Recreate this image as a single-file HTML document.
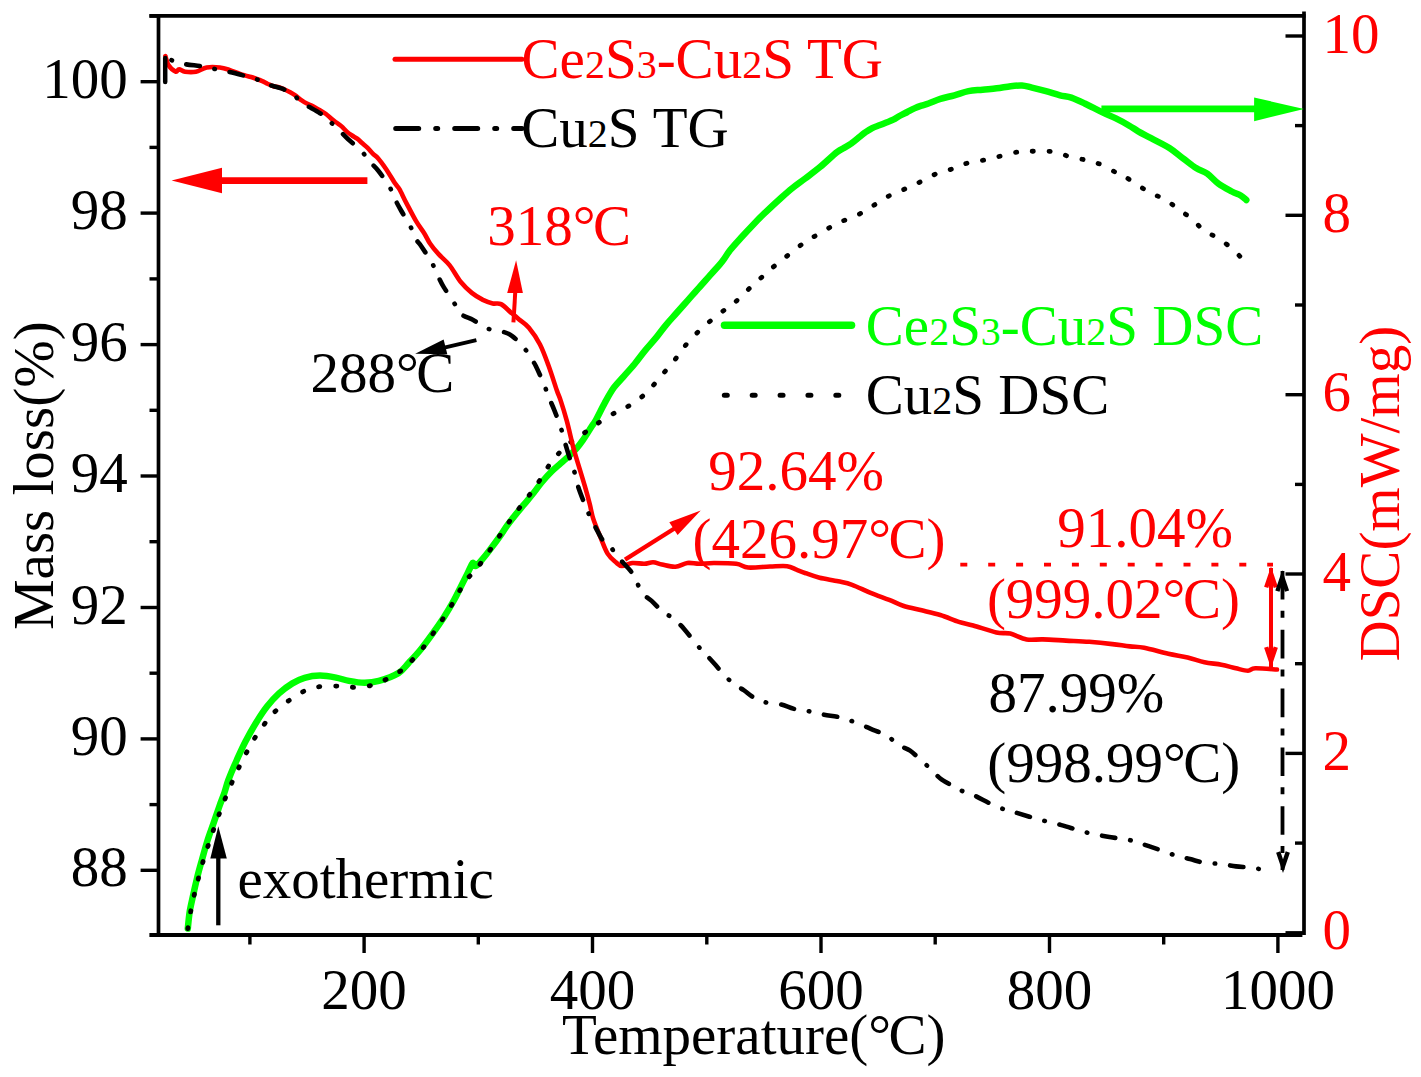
<!DOCTYPE html><html><head><meta charset="utf-8"><style>html,body{margin:0;padding:0;background:#fff;width:1421px;height:1077px;overflow:hidden}</style></head><body><svg width="1421" height="1077" viewBox="0 0 1421 1077" style="position:absolute;left:0;top:0">
<rect width="1421" height="1077" fill="#fff"/>
<path d="M187.8,928.6 C188.1,925.7 188.9,916.7 189.8,911.1 C190.7,905.5 192.0,900.6 193.2,895.0 C194.4,889.4 195.8,883.3 197.2,877.5 C198.6,871.7 200.2,866.1 201.9,860.0 C203.6,853.9 205.4,847.2 207.3,841.1 C209.2,835.0 211.4,829.4 213.4,823.6 C215.4,817.8 217.6,811.4 219.4,806.2 C221.2,801.0 223.0,796.9 224.5,792.5 C226.0,788.1 226.4,785.4 228.4,780.0 C230.4,774.6 233.8,766.7 236.7,760.2 C239.6,753.8 242.4,747.4 245.6,741.3 C248.8,735.2 252.1,729.2 255.6,723.5 C259.1,717.8 262.9,711.8 266.8,706.8 C270.7,701.8 274.7,697.3 279.0,693.4 C283.3,689.5 288.1,686.0 292.4,683.4 C296.7,680.8 300.0,679.1 304.6,677.8 C309.2,676.5 314.8,675.6 320.0,675.6 C325.2,675.6 331.2,676.7 336.0,677.6 C340.8,678.5 344.2,680.0 349.0,680.9 C353.8,681.8 359.6,682.8 364.6,682.8 C369.6,682.8 373.3,682.5 378.9,680.9 C384.5,679.3 393.4,676.1 398.4,673.1 C403.4,670.1 405.1,666.6 408.8,662.7 C412.5,658.8 416.6,654.5 420.5,649.7 C424.4,644.9 428.3,639.5 432.2,634.1 C436.1,628.7 440.2,622.9 443.9,617.2 C447.5,611.5 451.2,605.3 454.1,600.0 C457.0,594.7 459.3,589.8 461.5,585.4 C463.7,581.0 465.8,576.9 467.5,573.5 C469.2,570.1 470.6,566.8 471.5,565.0 C472.4,563.2 472.5,562.6 473.2,562.8 C473.9,563.0 474.3,566.5 475.7,566.0 C477.1,565.5 479.5,562.5 481.6,560.1 C483.7,557.8 486.1,554.8 488.3,551.9 C490.5,549.0 492.9,545.8 495.0,543.0 C497.1,540.2 498.9,537.8 500.9,534.9 C502.9,532.0 504.7,529.0 506.9,525.9 C509.1,522.8 511.4,519.9 514.1,516.4 C516.9,512.9 520.3,508.9 523.4,505.2 C526.5,501.5 529.6,498.0 532.7,494.1 C535.8,490.2 538.9,485.7 542.0,482.0 C545.1,478.3 548.2,474.9 551.3,471.8 C554.4,468.7 557.5,466.2 560.6,463.4 C563.7,460.6 567.3,457.6 569.9,455.1 C572.5,452.6 574.2,451.1 576.4,448.6 C578.6,446.1 580.4,443.8 582.9,440.2 C585.4,436.6 589.1,430.4 591.3,427.0 C593.5,423.6 593.6,424.1 595.9,420.0 C598.2,415.9 601.9,408.0 604.9,402.6 C607.9,397.2 610.6,392.2 613.8,387.7 C617.0,383.2 620.7,379.8 624.2,375.8 C627.7,371.9 631.1,368.2 634.6,364.0 C638.1,359.8 641.5,354.8 645.0,350.6 C648.5,346.4 651.8,342.9 655.3,338.7 C658.8,334.5 662.2,329.5 665.7,325.3 C669.2,321.1 672.4,317.7 676.1,313.5 C679.8,309.3 684.0,304.6 688.0,300.1 C692.0,295.6 695.9,291.1 699.9,286.7 C703.9,282.2 708.1,277.6 711.8,273.4 C715.5,269.2 719.2,265.4 722.2,261.5 C725.2,257.6 726.8,254.4 730.0,250.3 C733.2,246.2 737.8,241.3 741.7,237.0 C745.6,232.7 749.5,228.5 753.4,224.4 C757.3,220.3 760.9,216.7 765.1,212.7 C769.3,208.7 774.0,204.2 778.5,200.2 C783.0,196.2 787.4,192.1 791.9,188.5 C796.4,184.9 800.5,182.1 805.2,178.5 C809.9,174.9 815.0,171.2 820.3,166.8 C825.6,162.4 833.0,155.2 837.0,152.1 C841.0,148.9 841.8,149.3 844.1,147.9 C846.5,146.5 848.8,145.2 851.1,143.6 C853.4,141.9 855.8,139.9 858.1,138.0 C860.5,136.1 862.9,134.1 865.2,132.4 C867.6,130.8 869.9,129.3 872.2,128.1 C874.6,126.9 876.9,126.2 879.3,125.3 C881.6,124.4 884.0,123.4 886.3,122.5 C888.6,121.6 890.9,120.9 893.3,119.7 C895.6,118.5 898.0,116.8 900.4,115.5 C902.8,114.2 905.1,113.2 907.4,112.0 C909.7,110.8 912.0,109.5 914.4,108.4 C916.8,107.3 919.1,106.4 921.5,105.6 C923.9,104.8 925.4,104.6 928.5,103.5 C931.6,102.4 936.1,100.3 940.4,98.9 C944.7,97.5 949.7,96.6 954.4,95.3 C959.1,94.0 963.8,92.0 968.5,91.1 C973.2,90.2 977.9,90.2 982.6,89.7 C987.3,89.2 992.0,88.9 996.7,88.3 C1001.4,87.7 1006.5,86.7 1010.7,86.2 C1014.9,85.7 1018.5,85.3 1022.0,85.5 C1025.5,85.7 1027.9,86.7 1031.9,87.6 C1035.9,88.5 1041.2,89.8 1045.9,91.1 C1050.6,92.4 1055.8,94.2 1060.0,95.3 C1064.2,96.4 1067.2,96.2 1071.3,97.6 C1075.4,99.0 1079.5,101.0 1084.7,103.5 C1089.9,106.0 1097.3,109.9 1102.5,112.4 C1107.7,114.9 1111.4,116.2 1115.9,118.4 C1120.4,120.6 1125.6,123.5 1129.3,125.7 C1133.0,127.9 1134.5,129.2 1138.2,131.3 C1141.9,133.4 1146.3,135.6 1151.5,138.4 C1156.7,141.2 1164.2,144.7 1169.4,148.0 C1174.6,151.3 1178.2,154.8 1182.7,158.1 C1187.2,161.4 1192.0,165.5 1196.1,168.1 C1200.2,170.7 1203.6,171.1 1207.3,173.7 C1211.0,176.3 1214.3,180.7 1218.4,183.7 C1222.5,186.7 1228.1,189.5 1231.8,191.5 C1235.5,193.5 1238.3,194.1 1240.7,195.5 C1243.1,196.9 1245.4,199.2 1246.3,200.0" fill="none" stroke="#00ff00" stroke-width="6.5" stroke-linejoin="round" stroke-linecap="round"/>
<path d="M187.8,928.6 C188.5,924.6 190.5,912.0 192.1,904.4 C193.7,896.8 195.3,890.3 197.2,882.9 C199.1,875.5 201.3,867.3 203.5,860.0 C205.7,852.7 208.0,846.0 210.3,839.1 C212.6,832.2 214.9,825.8 217.4,818.9 C219.9,812.0 222.7,804.8 225.5,797.8 C228.3,790.8 231.5,783.4 234.5,776.9 C237.5,770.4 240.2,764.7 243.4,758.6 C246.6,752.5 249.9,746.0 253.4,740.2 C256.9,734.4 261.4,728.3 264.5,724.0 C267.6,719.7 268.3,718.1 271.8,714.6 C275.3,711.1 280.5,706.7 285.7,702.9 C290.9,699.1 297.4,694.4 303.0,691.7 C308.6,689.0 313.1,687.6 319.1,686.7 C325.1,685.8 333.0,686.0 339.1,686.1 C345.2,686.2 350.3,687.5 355.9,687.3 C361.5,687.1 367.4,686.5 372.8,685.0 C378.2,683.5 383.5,680.8 388.6,678.2 C393.7,675.6 399.8,671.6 403.2,669.2 C406.6,666.8 405.9,666.8 408.9,663.6 C411.9,660.4 417.4,655.0 421.3,650.1 C425.2,645.2 428.8,639.8 432.5,634.3 C436.2,628.8 440.1,623.2 443.8,617.4 C447.6,611.6 451.4,605.4 455.0,599.4 C458.6,593.4 461.6,586.5 465.2,581.4 C468.8,576.3 472.1,574.4 476.4,569.0 C480.7,563.6 485.7,556.3 490.8,548.9 C495.9,541.5 502.6,531.3 507.2,524.7 C511.8,518.1 514.7,514.3 518.3,509.4 C521.9,504.5 525.4,500.4 529.0,495.5 C532.6,490.6 536.3,485.4 540.1,479.7 C543.9,474.0 547.5,467.0 552.0,461.3 C556.5,455.6 561.9,449.8 566.8,445.4 C571.7,441.0 576.7,438.4 581.6,434.9 C586.5,431.4 591.4,427.6 596.3,424.3 C601.2,421.0 607.0,417.1 611.1,414.8 C615.2,412.5 616.4,412.9 620.6,410.6 C624.8,408.3 631.6,404.5 636.4,401.1 C641.1,397.7 644.9,394.3 649.1,390.0 C653.3,385.7 657.6,380.1 661.8,375.2 C666.0,370.3 670.6,365.2 674.4,360.4 C678.2,355.6 680.6,351.4 684.5,346.6 C688.4,341.9 693.5,336.3 698.0,331.9 C702.5,327.5 706.8,323.9 711.5,320.0 C716.2,316.1 722.1,311.8 726.2,308.7 C730.3,305.6 732.1,304.8 735.9,301.5 C739.6,298.2 744.3,293.2 748.7,289.1 C753.1,285.0 757.7,280.8 762.2,276.8 C766.7,272.8 770.7,269.0 775.6,265.0 C780.5,261.0 786.3,256.6 791.4,252.6 C796.5,248.7 801.1,244.6 806.0,241.3 C810.9,238.0 815.4,236.0 820.6,233.0 C825.9,230.0 831.1,226.4 837.5,223.3 C843.9,220.2 852.5,217.5 858.9,214.3 C865.3,211.1 870.5,207.3 875.8,204.1 C881.1,200.9 885.4,197.7 890.5,195.1 C895.6,192.5 901.1,190.7 906.2,188.4 C911.3,186.2 915.8,184.1 920.9,181.6 C926.0,179.1 931.2,175.9 936.6,173.7 C942.0,171.5 948.0,170.5 953.5,168.6 C959.0,166.7 963.3,164.1 969.3,162.5 C975.3,160.9 982.5,160.7 989.5,159.1 C996.5,157.5 1005.1,154.5 1011.1,153.2 C1017.1,151.9 1020.8,151.7 1025.6,151.4 C1030.4,151.1 1035.3,151.3 1040.1,151.4 C1044.9,151.5 1049.6,150.9 1054.6,151.8 C1059.6,152.7 1064.8,155.5 1070.2,156.9 C1075.6,158.3 1081.7,159.0 1086.9,160.3 C1092.1,161.6 1096.6,162.7 1101.4,164.7 C1106.2,166.7 1112.2,170.6 1115.9,172.5 C1119.6,174.4 1120.0,173.7 1123.7,175.9 C1127.4,178.1 1133.6,182.6 1138.2,185.5 C1142.8,188.4 1146.9,190.9 1151.5,193.3 C1156.1,195.7 1161.5,197.3 1166.0,200.0 C1170.5,202.7 1174.0,206.2 1178.3,209.3 C1182.6,212.4 1187.4,215.2 1191.7,218.7 C1196.0,222.2 1199.5,227.2 1203.9,230.5 C1208.4,233.8 1213.6,235.2 1218.4,238.3 C1223.2,241.5 1229.2,246.2 1232.9,249.4 C1236.6,252.6 1239.4,255.9 1240.7,257.2" fill="none" stroke="#000" stroke-width="4.8" stroke-linecap="round" stroke-dasharray="1.2 15.7"/>
<path d="M165.4,56.1 C165.9,57.6 166.7,62.5 168.4,65.1 C170.1,67.7 173.8,71.0 175.6,71.7 C177.4,72.4 177.5,69.3 179.1,69.3 C180.7,69.3 182.3,71.3 185.1,71.7 C187.9,72.1 192.3,72.4 195.9,71.7 C199.5,71.0 202.7,68.2 206.7,67.5 C210.7,66.8 216.0,67.1 219.8,67.5 C223.6,67.9 226.0,68.8 229.4,69.9 C232.8,71.0 237.3,73.0 240.0,73.9 C242.7,74.9 243.8,75.1 245.6,75.6 C247.4,76.1 249.2,76.4 251.1,77.0 C252.9,77.6 254.8,78.3 256.7,79.0 C258.6,79.7 260.4,80.4 262.3,81.2 C264.2,82.0 266.0,83.2 267.9,84.0 C269.8,84.8 271.5,85.7 273.4,86.2 C275.2,86.8 277.1,86.8 279.0,87.3 C280.9,87.8 282.7,88.7 284.6,89.5 C286.5,90.3 288.4,91.3 290.2,92.3 C292.0,93.3 293.8,94.4 295.7,95.7 C297.6,97.0 299.4,98.8 301.3,100.1 C303.2,101.4 304.9,102.5 306.9,103.5 C308.8,104.5 310.9,105.1 313.0,106.2 C315.1,107.3 317.3,108.8 319.5,110.1 C321.7,111.4 324.1,112.6 326.0,114.0 C327.9,115.4 329.5,117.2 331.2,118.6 C332.9,120.0 334.7,121.2 336.4,122.5 C338.1,123.8 339.9,124.9 341.6,126.4 C343.3,127.9 345.1,130.1 346.8,131.6 C348.5,133.1 350.3,134.3 352.0,135.5 C353.7,136.7 355.5,137.4 357.2,138.7 C358.9,140.0 360.7,141.8 362.4,143.3 C364.1,144.8 365.9,146.1 367.6,147.8 C369.3,149.5 371.1,152.0 372.8,153.7 C374.5,155.4 375.9,155.8 378.0,158.2 C380.1,160.6 382.6,164.0 385.5,168.2 C388.4,172.4 392.9,180.1 395.2,183.6 C397.5,187.1 397.5,185.8 399.4,189.1 C401.3,192.3 403.6,197.8 406.4,203.1 C409.2,208.4 413.1,216.1 416.1,221.2 C419.1,226.3 422.2,230.0 424.5,233.7 C426.8,237.4 427.7,240.1 430.0,243.5 C432.3,246.9 435.1,250.3 438.4,253.9 C441.6,257.5 445.8,260.5 449.5,265.1 C453.2,269.8 456.9,277.2 460.6,281.8 C464.3,286.4 468.1,289.9 471.8,292.9 C475.5,295.9 479.4,298.1 482.9,299.9 C486.4,301.6 489.7,302.7 492.7,303.4 C495.7,304.1 498.0,302.6 501.0,304.1 C504.0,305.6 507.8,309.8 510.8,312.4 C513.8,314.9 516.1,316.8 519.1,319.4 C522.1,321.9 525.4,323.5 528.9,327.7 C532.4,331.9 536.8,338.2 540.0,344.5 C543.2,350.8 545.6,357.7 548.4,365.3 C551.2,372.9 554.7,384.1 556.7,390.0 C558.7,395.9 558.9,395.2 560.6,400.4 C562.3,405.5 564.6,412.9 566.8,420.9 C569.0,428.9 571.5,440.9 573.6,448.6 C575.7,456.3 577.2,460.9 579.1,467.1 C581.0,473.3 582.9,479.5 584.7,485.7 C586.5,491.9 588.4,498.8 589.8,504.3 C591.2,509.8 591.5,513.4 593.3,518.9 C595.1,524.4 598.1,531.5 600.5,537.3 C602.9,543.1 605.0,549.4 607.6,553.6 C610.2,557.8 613.5,560.2 615.9,562.3 C618.3,564.4 619.2,565.9 621.9,566.0 C624.6,566.1 628.6,563.4 632.3,563.0 C636.0,562.6 640.7,563.9 644.2,563.8 C647.7,563.7 650.1,562.2 653.1,562.3 C656.1,562.4 658.3,563.8 662.0,564.5 C665.7,565.2 671.2,567.0 675.4,566.7 C679.6,566.5 683.3,563.5 687.3,563.0 C691.3,562.5 694.8,563.8 699.2,563.8 C703.7,563.8 707.8,563.0 714.0,563.0 C720.2,563.0 730.6,563.0 736.3,563.8 C742.0,564.5 742.6,567.0 748.2,567.5 C753.8,568.0 763.5,566.7 770.0,566.5 C776.5,566.3 782.7,565.7 787.1,566.2 C791.5,566.7 793.3,568.5 796.4,569.7 C799.5,570.9 801.8,571.9 805.7,573.2 C809.6,574.6 814.2,576.4 819.6,577.8 C825.0,579.1 832.8,580.1 838.2,581.3 C843.6,582.5 846.7,582.9 852.1,584.8 C857.5,586.7 864.4,590.4 870.6,592.9 C876.8,595.4 883.8,597.8 889.2,599.9 C894.6,602.0 897.7,604.0 903.1,605.7 C908.5,607.4 915.5,608.8 921.7,610.3 C927.9,611.8 934.1,613.1 940.3,615.0 C946.5,616.9 953.3,620.1 958.8,621.9 C964.3,623.6 966.9,623.7 973.2,625.5 C979.5,627.3 990.2,631.1 996.4,632.5 C1002.6,633.9 1005.3,632.5 1010.3,633.6 C1015.3,634.8 1021.2,638.4 1026.6,639.4 C1032.0,640.4 1036.2,639.2 1042.8,639.4 C1049.4,639.6 1058.3,640.2 1066.0,640.6 C1073.7,641.0 1081.5,641.2 1089.2,641.8 C1096.9,642.4 1105.6,643.3 1112.4,644.1 C1119.2,644.9 1124.5,645.8 1129.8,646.4 C1135.1,647.0 1137.8,646.6 1144.2,647.8 C1150.6,649.0 1161.1,652.2 1168.3,653.8 C1175.5,655.4 1181.6,656.0 1187.6,657.4 C1193.6,658.8 1198.9,661.1 1204.5,662.3 C1210.1,663.5 1216.2,663.7 1221.4,664.7 C1226.6,665.7 1231.5,667.3 1235.9,668.3 C1240.3,669.3 1244.8,670.7 1248.0,670.7 C1251.2,670.7 1250.5,668.5 1255.3,668.3 C1260.1,668.1 1273.4,669.3 1277.0,669.5" fill="none" stroke="#ff0000" stroke-width="4.6" stroke-linejoin="round" stroke-linecap="round"/>
<line x1="165.2" y1="58" x2="165.2" y2="82" stroke="#000" stroke-width="4.5" stroke-linecap="round"/>
<path d="M165.4,56.7 C166.5,57.3 169.0,59.1 172.0,60.3 C175.0,61.5 178.3,62.9 183.3,63.9 C188.3,64.9 196.9,65.5 201.9,66.3 C206.9,67.1 208.8,67.8 213.2,68.7 C217.6,69.6 222.9,70.5 228.2,71.7 C233.5,72.9 240.3,74.7 244.9,75.9 C249.5,77.1 252.0,77.5 255.7,78.9 C259.4,80.3 262.7,82.7 267.0,84.3 C271.3,85.9 277.0,86.7 281.4,88.4 C285.8,90.1 290.1,92.1 293.4,94.4 C296.7,96.7 296.7,99.1 301.1,102.2 C305.5,105.3 315.4,110.2 320.0,113.2 C324.6,116.2 325.4,117.5 328.4,120.2 C331.4,122.9 334.9,126.1 338.1,129.2 C341.4,132.3 343.9,135.3 347.9,139.0 C351.8,142.7 358.2,147.8 361.8,151.5 C365.4,155.2 366.6,158.1 369.4,161.3 C372.2,164.6 375.1,166.7 378.5,171.0 C381.9,175.3 386.9,182.5 389.6,187.0 C392.3,191.5 392.6,194.4 394.5,198.2 C396.4,202.0 398.1,205.2 400.8,210.0 C403.5,214.8 407.9,221.8 410.5,226.7 C413.1,231.6 414.3,236.1 416.1,239.3 C417.9,242.5 418.5,242.1 421.1,246.0 C423.7,249.9 428.8,257.4 431.7,262.5 C434.6,267.6 436.4,272.8 438.4,276.9 C440.4,281.0 441.2,283.0 443.9,287.4 C446.6,291.8 451.6,299.0 454.4,303.4 C457.2,307.8 457.5,311.0 460.6,313.8 C463.7,316.6 468.8,317.7 473.2,320.1 C477.6,322.5 482.5,326.5 487.1,328.4 C491.7,330.2 496.8,329.9 501.0,331.2 C505.2,332.5 508.3,333.2 512.2,336.1 C516.2,339.0 521.6,344.9 524.7,348.6 C527.8,352.3 529.1,355.5 531.0,358.4 C532.9,361.3 533.6,361.6 535.8,366.0 C538.0,370.4 542.1,379.8 544.2,384.8 C546.3,389.9 546.7,392.0 548.4,396.3 C550.1,400.6 552.5,405.5 554.5,410.6 C556.5,415.7 558.7,421.2 560.6,427.0 C562.5,432.8 564.1,439.6 565.8,445.4 C567.5,451.2 569.5,457.6 570.9,461.7 C572.2,465.8 572.7,465.8 573.9,469.9 C575.1,474.0 576.3,480.8 578.0,486.2 C579.7,491.6 582.2,497.8 584.1,502.6 C586.0,507.4 587.3,510.7 589.2,514.8 C591.1,518.9 593.0,522.7 595.4,527.1 C597.8,531.5 601.1,538.3 603.5,541.4 C605.9,544.5 607.9,543.6 610.0,545.9 C612.1,548.1 613.7,552.0 615.9,554.9 C618.1,557.8 620.9,560.3 623.4,563.0 C625.9,565.7 628.7,568.4 630.8,571.2 C632.9,574.1 634.1,576.5 636.0,580.1 C637.9,583.7 639.3,589.2 641.9,592.7 C644.5,596.2 648.8,598.3 651.6,600.9 C654.5,603.5 657.0,606.5 659.0,608.4 C661.0,610.3 660.9,610.2 663.5,612.1 C666.1,614.0 671.1,616.6 674.6,619.5 C678.1,622.4 680.7,625.1 684.3,629.2 C687.9,633.3 692.9,640.0 696.2,644.0 C699.6,648.0 701.4,649.7 704.4,652.9 C707.4,656.1 710.7,659.6 714.0,663.3 C717.3,667.0 720.9,671.6 724.4,675.2 C727.9,678.8 731.6,682.4 734.8,684.9 C738.0,687.4 740.7,688.1 743.7,690.1 C746.7,692.1 749.2,694.8 752.6,696.8 C756.0,698.8 759.3,700.8 763.9,702.0 C768.5,703.2 775.2,703.1 780.2,704.3 C785.2,705.4 789.3,707.7 794.1,708.9 C798.9,710.1 804.2,710.3 809.2,711.3 C814.2,712.3 819.0,713.7 824.2,714.7 C829.4,715.7 835.1,716.1 840.5,717.5 C845.9,718.9 851.3,720.9 856.7,722.9 C862.1,724.9 868.0,727.7 873.0,729.8 C878.0,731.9 882.6,733.1 886.9,735.6 C891.1,738.1 894.6,742.4 898.5,744.9 C902.4,747.4 906.6,748.4 910.1,750.7 C913.6,753.0 915.9,755.7 919.4,758.8 C922.9,761.9 927.5,766.0 931.0,769.3 C934.5,772.6 936.8,775.8 940.3,778.5 C943.8,781.2 948.6,783.6 951.9,785.5 C955.2,787.4 956.5,788.5 960.0,790.1 C963.5,791.7 967.1,792.2 973.2,794.9 C979.3,797.6 989.4,803.6 996.4,806.5 C1003.4,809.4 1008.0,810.2 1015.0,812.3 C1022.0,814.4 1030.5,817.2 1038.2,819.3 C1045.9,821.4 1053.7,823.0 1061.4,825.1 C1069.1,827.2 1076.9,830.1 1084.6,832.0 C1092.3,833.9 1100.3,835.4 1107.8,836.7 C1115.3,838.1 1123.7,838.8 1129.8,840.1 C1135.9,841.4 1139.4,843.0 1144.2,844.6 C1149.0,846.2 1153.4,847.7 1158.6,849.5 C1163.8,851.3 1170.4,853.9 1175.6,855.5 C1180.8,857.1 1185.2,857.9 1190.0,859.1 C1194.8,860.3 1199.3,862.0 1204.5,862.8 C1209.7,863.6 1216.2,863.4 1221.4,864.0 C1226.6,864.6 1231.1,865.8 1235.9,866.4 C1240.7,867.0 1245.6,867.0 1250.4,867.6 C1255.2,868.2 1261.6,869.5 1264.9,870.0 C1268.2,870.5 1269.2,870.4 1270.0,870.5" fill="none" stroke="#000" stroke-width="4.6" stroke-linecap="round" stroke-dasharray="13.5 15 0.5 15" stroke-dashoffset="21.5"/>
<g stroke="#000" stroke-width="3.4" fill="none">
<line x1="158.5" y1="14" x2="158.5" y2="935" stroke-width="3.7"/>
<line x1="149.4" y1="15.8" x2="1305.5" y2="15.8" stroke-width="3.8"/>
<line x1="149.4" y1="935" x2="1302.4" y2="935" stroke-width="4"/>
<line x1="1304" y1="11.4" x2="1304" y2="935" stroke-width="3.7"/>
<line x1="140.6" y1="870.3" x2="158.5" y2="870.3"/>
<line x1="149.5" y1="804.6" x2="158.5" y2="804.6"/>
<line x1="140.6" y1="738.9" x2="158.5" y2="738.9"/>
<line x1="149.5" y1="673.2" x2="158.5" y2="673.2"/>
<line x1="140.6" y1="607.5" x2="158.5" y2="607.5"/>
<line x1="149.5" y1="541.7" x2="158.5" y2="541.7"/>
<line x1="140.6" y1="476.0" x2="158.5" y2="476.0"/>
<line x1="149.5" y1="410.3" x2="158.5" y2="410.3"/>
<line x1="140.6" y1="344.6" x2="158.5" y2="344.6"/>
<line x1="149.5" y1="278.9" x2="158.5" y2="278.9"/>
<line x1="140.6" y1="213.1" x2="158.5" y2="213.1"/>
<line x1="149.5" y1="147.4" x2="158.5" y2="147.4"/>
<line x1="140.6" y1="81.7" x2="158.5" y2="81.7"/>
<line x1="149.5" y1="16.0" x2="158.5" y2="16.0"/>
<line x1="249.9" y1="935" x2="249.9" y2="944.5"/>
<line x1="364.1" y1="935" x2="364.1" y2="953"/>
<line x1="478.3" y1="935" x2="478.3" y2="944.5"/>
<line x1="592.5" y1="935" x2="592.5" y2="953"/>
<line x1="706.8" y1="935" x2="706.8" y2="944.5"/>
<line x1="821.0" y1="935" x2="821.0" y2="953"/>
<line x1="935.2" y1="935" x2="935.2" y2="944.5"/>
<line x1="1049.5" y1="935" x2="1049.5" y2="953"/>
<line x1="1163.7" y1="935" x2="1163.7" y2="944.5"/>
<line x1="1277.9" y1="935" x2="1277.9" y2="953"/>
<line x1="1285.5" y1="932.8" x2="1304" y2="932.8"/>
<line x1="1295" y1="843.1" x2="1304" y2="843.1"/>
<line x1="1285.5" y1="753.4" x2="1304" y2="753.4"/>
<line x1="1295" y1="663.7" x2="1304" y2="663.7"/>
<line x1="1285.5" y1="574.0" x2="1304" y2="574.0"/>
<line x1="1295" y1="484.4" x2="1304" y2="484.4"/>
<line x1="1285.5" y1="394.7" x2="1304" y2="394.7"/>
<line x1="1295" y1="305.0" x2="1304" y2="305.0"/>
<line x1="1285.5" y1="215.3" x2="1304" y2="215.3"/>
<line x1="1295" y1="125.6" x2="1304" y2="125.6"/>
<line x1="1285.5" y1="36.0" x2="1304" y2="36.0"/>
</g>
<g font-family='"Liberation Serif", serif' font-size="57">
<text x="127.8" y="886.4" text-anchor="end">88</text>
<text x="127.8" y="755.0" text-anchor="end">90</text>
<text x="127.8" y="623.6" text-anchor="end">92</text>
<text x="127.8" y="492.1" text-anchor="end">94</text>
<text x="127.8" y="360.7" text-anchor="end">96</text>
<text x="127.8" y="229.2" text-anchor="end">98</text>
<text x="127.8" y="97.8" text-anchor="end">100</text>
<text x="364.1" y="1009.3" text-anchor="middle">200</text>
<text x="592.5" y="1009.3" text-anchor="middle">400</text>
<text x="821.0" y="1009.3" text-anchor="middle">600</text>
<text x="1049.5" y="1009.3" text-anchor="middle">800</text>
<text x="1277.9" y="1009.3" text-anchor="middle">1000</text>
<text x="1322.5" y="949.3" fill="#ff0000">0</text>
<text x="1322.5" y="769.9" fill="#ff0000">2</text>
<text x="1322.5" y="590.5" fill="#ff0000">4</text>
<text x="1322.5" y="411.2" fill="#ff0000">6</text>
<text x="1322.5" y="231.8" fill="#ff0000">8</text>
<text x="1322.5" y="52.5" fill="#ff0000">10</text>
<text transform="translate(53.1,630.1) rotate(-90)">Mass loss(%)</text>
<text x="562.1" y="1054.3">Temperature(°<tspan dx="-2.5">C</tspan>)</text>
<text transform="translate(1399.1,661.5) rotate(-90)" fill="#ff0000">DSC(mW/mg)</text>
<text x="521.6" y="78" fill="#ff0000">Ce<tspan font-size="40">2</tspan>S<tspan font-size="40">3</tspan>-Cu<tspan font-size="40">2</tspan>S TG</text>
<text x="521.3" y="147">Cu<tspan font-size="40">2</tspan>S TG</text>
<text x="865.8" y="344.5" fill="#00ff00">Ce<tspan font-size="40">2</tspan>S<tspan font-size="40">3</tspan>-Cu<tspan font-size="40">2</tspan>S DSC</text>
<text x="865.8" y="413.5">Cu<tspan font-size="40">2</tspan>S DSC</text>
<text x="487.2" y="244.5" fill="#ff0000">318°<tspan dx="-2.5">C</tspan></text>
<text x="310.4" y="392.4">288°<tspan dx="-2.5">C</tspan></text>
<text x="708.2" y="490.3" fill="#ff0000">92.64%</text>
<text x="692.5" y="558.4" fill="#ff0000">(426.97°<tspan dx="-2.5">C</tspan>)</text>
<text x="1057.3" y="547.4" fill="#ff0000">91.04%</text>
<text x="986.9" y="617.8" fill="#ff0000">(999.02°<tspan dx="-2.5">C</tspan>)</text>
<text x="988.5" y="711.6">87.99%</text>
<text x="987.2" y="781.8">(998.99°<tspan dx="-2.5">C</tspan>)</text>
<text x="237.4" y="897.6">exothermic</text>
</g>
<line x1="395" y1="59.2" x2="522" y2="59.2" stroke="#ff0000" stroke-width="5" stroke-linecap="round"/>
<line x1="395.7" y1="128.5" x2="522" y2="128.5" stroke="#000" stroke-width="5" stroke-linecap="round" stroke-dasharray="23 17 2 17"/>
<line x1="724.4" y1="325.2" x2="851.6" y2="325.2" stroke="#00ff00" stroke-width="7.4" stroke-linecap="round"/>
<line x1="724.3" y1="395.2" x2="840" y2="395.2" stroke="#000" stroke-width="5" stroke-linecap="round" stroke-dasharray="3 24.88"/>
<line x1="221" y1="180.6" x2="367.4" y2="180.6" stroke="#ff0000" stroke-width="6.8"/>
<polygon points="171.6,180.5 222,167.8 222,193.3" fill="#ff0000"/>
<line x1="1101.4" y1="108.9" x2="1255" y2="108.9" stroke="#00ff00" stroke-width="6.6"/>
<polygon points="1304,108.9 1254.1,97.5 1254.1,121.3" fill="#00ff00"/>
<line x1="513.4" y1="322.4" x2="515.4" y2="290" stroke="#ff0000" stroke-width="4"/>
<polygon points="516.1,260.2 507.2,292.9 522.9,292.9" fill="#ff0000"/>
<line x1="476.4" y1="340.1" x2="440" y2="348.6" stroke="#000" stroke-width="3.8"/>
<polygon points="415.2,353.8 443.6,339.4 447.3,354.3" fill="#000"/>
<line x1="625" y1="559.6" x2="680" y2="525" stroke="#ff0000" stroke-width="4.3"/>
<polygon points="700.7,510.4 669.3,522.2 677.6,535" fill="#ff0000"/>
<line x1="218.3" y1="925.3" x2="218.3" y2="855" stroke="#000" stroke-width="4.3"/>
<polygon points="218.3,826.3 210.3,858.6 226.8,858.6" fill="#000"/>
<line x1="960.3" y1="564.6" x2="1273" y2="564.6" stroke="#ff0000" stroke-width="3.8" stroke-dasharray="7 20.9"/>
<line x1="1271" y1="568" x2="1271" y2="667" stroke="#ff0000" stroke-width="4"/>
<polyline points="1266.2,587.4 1271,573.4 1275.8,587.4" fill="none" stroke="#ff0000" stroke-width="4.4" stroke-linejoin="miter" stroke-miterlimit="10"/>
<polyline points="1266.2,647.1 1271,661.1 1275.8,647.1" fill="none" stroke="#ff0000" stroke-width="4.4" stroke-linejoin="miter" stroke-miterlimit="10"/>
<line x1="1282.5" y1="571" x2="1282.5" y2="870" stroke="#000" stroke-width="3.8" stroke-dasharray="28.6 11.2 7 12"/>
<polyline points="1277.4,591.1 1282.2,577.1 1287,591.1" fill="none" stroke="#000" stroke-width="4.4" stroke-linejoin="miter" stroke-miterlimit="10"/>
<polyline points="1278.2,852 1283,866.1 1287.8,852" fill="none" stroke="#000" stroke-width="4.4" stroke-linejoin="miter" stroke-miterlimit="10"/>
</svg></body></html>
